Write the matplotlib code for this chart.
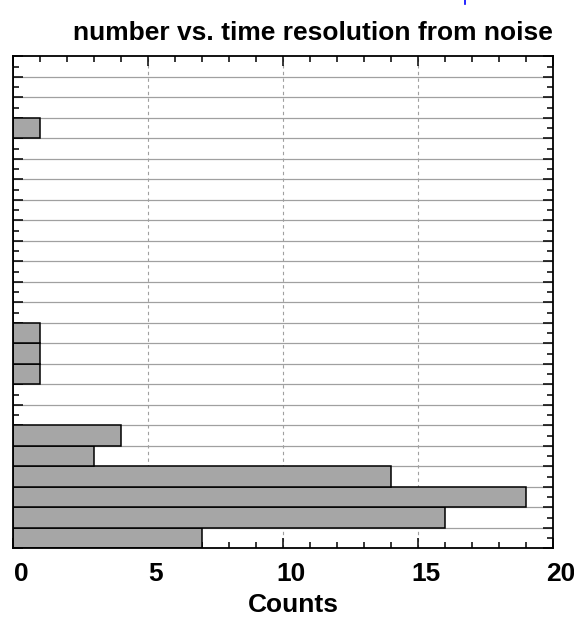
import numpy as np
import matplotlib
matplotlib.use('Agg')
import matplotlib.pyplot as plt
from matplotlib.lines import Line2D
from matplotlib.transforms import ScaledTranslation

plt.rcParams['font.family'] = ['Liberation Sans', 'DejaVu Sans']

# histogram bins, bottom to top (24 bins), counts per bin
bin_index = np.arange(24)
counts = [7, 16, 19, 14, 3, 4, 0, 0, 1, 1, 1, 0,
          0, 0, 0, 0, 0, 0, 0, 0, 1, 0, 0, 0]
x_major = [0, 5, 10, 15, 20]
x_labels = ['0', '5', '10', '15', '20']

fig = plt.figure(figsize=(5.74, 6.17), dpi=100)
ax = fig.add_axes([13 / 574, 68.7 / 617, 540 / 574, 492 / 617])

# grid: solid gray at bin edges, dashed gray verticals
for yb in range(1, 24):
    ax.axhline(yb, color='#a0a0a0', lw=0.9, zorder=1)
for xv in x_major[1:-1]:
    ax.axvline(xv, color='#a0a0a0', lw=0.8, ls=(0, (3, 3)), zorder=1)

ax.barh(bin_index, counts, height=1.0, align='edge', color='#a6a6a6',
        edgecolor='black', linewidth=1.1, zorder=2)

ax.set_xlim(0, 20)
ax.set_ylim(0, 24)
for s in ax.spines.values():
    s.set_linewidth(1.3)
    s.set_zorder(5)

ax.set_xticks(x_major)
ax.set_xticklabels(x_labels, fontsize=19, fontweight='bold')
ax.set_xticks(np.arange(0, 21, 1), minor=True)
ax.set_yticks(np.arange(0, 25, 1))
ax.set_yticks(np.arange(0.5, 24, 1), minor=True)
ax.set_yticklabels([])
ax.tick_params(which='both', direction='in', top=True, right=True, width=1.1)
ax.tick_params(which='major', length=7.5)
ax.tick_params(which='minor', length=4)
ax.tick_params(axis='x', which='major', pad=10)

# tick labels sit a little right of their ticks in the original
shift = ScaledTranslation(8 / 100, 0, fig.dpi_scale_trans)
for lab in ax.get_xticklabels():
    lab.set_transform(lab.get_transform() + shift)

fig.text(293 / 574, 5 / 617, 'Counts', fontsize=19, fontweight='bold',
         ha='center', va='baseline')
fig.text(553 / 574, (617 - 40) / 617, 'number vs. time resolution from noise',
         fontsize=19, fontweight='bold', ha='right', va='baseline')

# fragment of a blue mark cut off at the top edge
fig.add_artist(Line2D([465 / 574, 465 / 574], [1.0, (617 - 4) / 617],
                      color='blue', lw=1.2, transform=fig.transFigure))

fig.savefig('out.png', dpi=100)
